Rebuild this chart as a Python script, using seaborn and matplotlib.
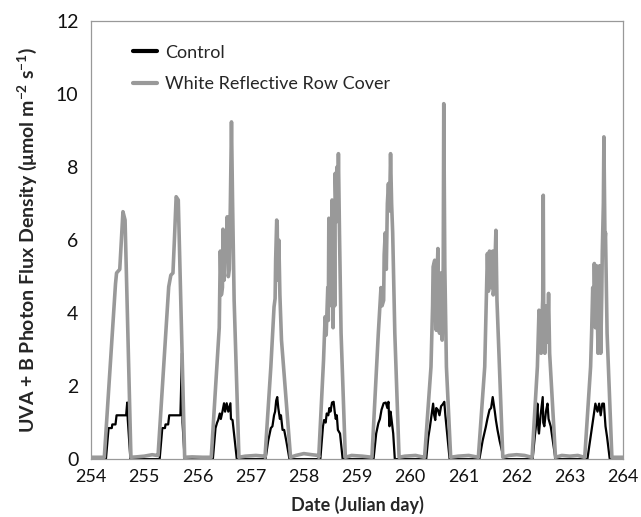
import matplotlib
matplotlib.use('Agg')
import matplotlib.pyplot as plt
import pandas as pd
import seaborn as sns

# White reflective row cover (grey)
cover_day = [
    254.00, 254.12,
    254.25, 254.46, 254.48, 254.54, 254.57, 254.60, 254.64, 254.75,
    254.85, 255.00, 255.15, 255.24,
    255.26, 255.46, 255.50, 255.54, 255.57, 255.60, 255.64, 255.76,
    255.90, 256.10, 256.25,
    256.26, 256.41, 256.43, 256.45, 256.47, 256.48, 256.50, 256.52, 256.54, 256.56,
    256.58, 256.60, 256.62, 256.64, 256.66, 256.69, 256.78,
    256.90, 257.10, 257.26,
    257.27, 257.38, 257.44, 257.46, 257.47, 257.49, 257.50, 257.51, 257.53, 257.55,
    257.58, 257.75,
    257.85, 258.00, 258.15, 258.27,
    258.28, 258.37, 258.40, 258.42, 258.45, 258.46, 258.47, 258.49, 258.51, 258.52,
    258.53, 258.55, 258.57, 258.58, 258.59, 258.61, 258.62, 258.64, 258.65, 258.67,
    258.70, 258.78,
    258.90, 259.10, 259.27,
    259.28, 259.40, 259.45, 259.47, 259.50, 259.51, 259.53, 259.55, 259.57, 259.59,
    259.61, 259.63, 259.65, 259.67, 259.71, 259.79,
    259.90, 260.10, 260.26,
    260.27, 260.39, 260.42, 260.43, 260.46, 260.47, 260.49, 260.50, 260.52, 260.53,
    260.55, 260.57, 260.58, 260.60, 260.62, 260.63, 260.65, 260.68, 260.76,
    260.90, 261.10, 261.27,
    261.28, 261.40, 261.44, 261.45, 261.47, 261.49, 261.51, 261.52, 261.55, 261.56,
    261.58, 261.61, 261.63, 261.74,
    261.85, 262.00, 262.15, 262.28,
    262.29, 262.39, 262.42, 262.44, 262.46, 262.48, 262.49, 262.50, 262.51, 262.53,
    262.55, 262.56, 262.58, 262.60, 262.62, 262.73,
    262.85, 263.00, 263.15, 263.27,
    263.28, 263.39, 263.41, 263.43, 263.45, 263.46, 263.48, 263.50, 263.53, 263.55,
    263.56, 263.58, 263.60, 263.61, 263.63, 263.64, 263.66, 263.67, 263.70, 263.79,
    263.90, 264.00,
]
cover_flux = [
    0.05, 0.05,
    0.05, 4.80, 5.10, 5.20, 6.00, 6.78, 6.55, 0.05,
    0.06, 0.08, 0.12, 0.10,
    0.10, 4.72, 5.04, 5.10, 6.10, 7.19, 7.10, 0.05,
    0.06, 0.05, 0.05,
    0.05, 3.60, 5.70, 4.50, 4.70, 6.30, 4.90, 6.20, 5.45, 6.64,
    5.00, 5.20, 7.10, 9.24, 7.10, 4.35, 0.05,
    0.08, 0.10, 0.08,
    0.05, 2.53, 4.17, 4.40, 5.45, 6.55, 6.40, 4.90, 6.00, 4.50,
    3.26, 0.05,
    0.10, 0.15, 0.12, 0.10,
    0.05, 2.70, 3.90, 3.40, 4.70, 3.80, 6.60, 4.60, 5.45, 4.20,
    7.10, 3.60, 7.00, 4.20, 7.83, 6.50, 8.00, 7.20, 8.37, 6.20,
    3.45, 0.05,
    0.10, 0.08, 0.05,
    0.05, 3.45, 4.70, 4.20, 4.35, 5.60, 6.20, 5.20, 7.00, 7.55,
    6.80, 8.37, 7.00, 6.20, 3.45, 0.05,
    0.08, 0.10, 0.05,
    0.05, 2.53, 4.20, 5.27, 5.45, 4.00, 3.53, 4.80, 5.77, 4.20,
    3.45, 5.10, 3.60, 3.26, 5.30, 9.74, 5.27, 2.53, 0.05,
    0.08, 0.10, 0.05,
    0.05, 2.53, 5.00, 5.63, 4.60, 5.70, 4.80, 4.70, 5.70, 4.50,
    4.70, 6.27, 4.35, 0.05,
    0.10, 0.12, 0.10, 0.05,
    0.05, 2.53, 4.08, 3.20, 2.90, 4.00, 4.35, 7.23, 3.50, 2.90,
    4.20, 3.90, 3.20, 4.54, 2.90, 0.05,
    0.10, 0.08, 0.10, 0.05,
    0.05, 2.53, 3.50, 4.70, 3.80, 5.36, 3.60, 5.30, 2.90, 4.20,
    5.30, 2.90, 4.50, 5.70, 7.00, 8.83, 6.00, 6.20, 3.45, 0.05,
    0.05, 0.05,
]

# Control (black)
control_day = [
    254.00,
    254.28, 254.33, 254.39, 254.40, 254.46, 254.48, 254.66, 254.68, 254.69, 254.74,
    255.29, 255.34, 255.39, 255.40, 255.45, 255.47, 255.68, 255.71, 255.72, 255.76,
    256.29, 256.34, 256.37, 256.39, 256.42, 256.44, 256.47, 256.50, 256.52, 256.55,
    256.58, 256.62, 256.63, 256.66, 256.74,
    257.28, 257.33, 257.38, 257.41, 257.44, 257.46, 257.48, 257.50, 257.52, 257.55,
    257.57, 257.60, 257.63, 257.67, 257.73,
    258.31, 258.36, 258.38, 258.41, 258.43, 258.46, 258.48, 258.50, 258.53, 258.56,
    258.58, 258.60, 258.62, 258.64, 258.68, 258.73,
    259.31, 259.36, 259.40, 259.43, 259.46, 259.50, 259.54, 259.57, 259.59, 259.61,
    259.63, 259.65, 259.68, 259.71,
    260.30, 260.34, 260.37, 260.40, 260.43, 260.45, 260.47, 260.49, 260.52, 260.55,
    260.58, 260.61, 260.64, 260.66, 260.68, 260.74,
    261.30, 261.36, 261.42, 261.45, 261.49, 261.52, 261.55, 261.57, 261.59, 261.61,
    261.64, 261.68, 261.76,
    262.30, 262.34, 262.37, 262.39, 262.41, 262.42, 262.45, 262.49, 262.50, 262.52,
    262.55, 262.58, 262.60, 262.64, 262.68, 262.73,
    263.33, 263.38, 263.42, 263.45, 263.48, 263.52, 263.55, 263.58, 263.61, 263.64,
    263.67, 263.70, 263.75,
    264.00,
]
control_flux = [
    0.0,
    0.0, 0.85, 0.85, 0.95, 0.95, 1.20, 1.20, 1.55, 1.10, 0.0,
    0.0, 0.85, 0.85, 0.95, 0.95, 1.20, 1.20, 2.90, 1.00, 0.0,
    0.0, 0.85, 1.00, 1.07, 1.25, 1.10, 1.30, 1.53, 1.30, 1.53,
    1.30, 1.53, 1.10, 1.07, 0.0,
    0.0, 0.50, 0.85, 0.90, 1.20, 1.30, 1.60, 1.70, 1.40, 1.10,
    1.20, 0.80, 0.80, 0.50, 0.0,
    0.0, 0.90, 1.07, 1.00, 1.25, 1.20, 1.40, 1.30, 1.55, 1.57,
    1.30, 1.10, 1.20, 0.80, 0.70, 0.0,
    0.0, 0.70, 0.98, 1.10, 1.35, 1.53, 1.55, 1.40, 1.57, 0.90,
    1.30, 1.07, 0.70, 0.0,
    0.0, 0.60, 0.88, 1.20, 1.52, 1.20, 1.07, 1.40, 1.35, 1.20,
    1.45, 1.50, 1.57, 1.20, 0.90, 0.0,
    0.0, 0.50, 0.88, 1.10, 1.35, 1.40, 1.70, 1.50, 1.30, 1.07,
    0.80, 0.50, 0.0,
    0.0, 0.60, 1.00, 1.52, 0.80, 0.70, 1.20, 1.70, 1.00, 0.90,
    1.30, 1.52, 1.10, 0.90, 0.50, 0.0,
    0.0, 0.50, 0.88, 1.20, 1.52, 1.30, 1.52, 1.20, 1.52, 1.52,
    0.90, 0.60, 0.0,
    0.0,
]

x_ticks = list(range(254, 265))
y_ticks = [0, 2, 4, 6, 8, 10, 12]

sns.set_style('white')
plt.rcParams['font.family'] = ['Lato', 'DejaVu Sans']
plt.rcParams['mathtext.fontset'] = 'custom'
plt.rcParams['mathtext.rm'] = 'Lato'
plt.rcParams['mathtext.bf'] = 'Lato:bold'

df_control = pd.DataFrame({'day': control_day, 'flux': control_flux})
df_cover = pd.DataFrame({'day': cover_day, 'flux': cover_flux})

fig = plt.figure(figsize=(6.41, 5.17), dpi=100)
ax = fig.add_axes([0.142, 0.112, 0.830, 0.847])

sns.lineplot(data=df_control, x='day', y='flux', ax=ax, color='black', linewidth=1.6,
             estimator=None, sort=False, label='Control')
sns.lineplot(data=df_cover, x='day', y='flux', ax=ax, color='#999999', linewidth=2.6,
             estimator=None, sort=False, label='White Reflective Row Cover')

ax.set_xlim(254, 264)
ax.set_ylim(0, 12)
ax.set_xticks(x_ticks)
ax.set_yticks(y_ticks)
ax.tick_params(axis='x', direction='in', length=3, width=0.8, color='#888888',
               labelsize=13, pad=7, labelcolor='#111111')
ax.tick_params(axis='y', direction='out', length=4, width=0.8, color='#888888',
               labelsize=14, pad=5, labelcolor='#111111')
for sp in ax.spines.values():
    sp.set_color('#999999')
    sp.set_linewidth(0.9)

ax.set_xlabel('Date (Julian day)', fontsize=13, fontweight='bold', labelpad=8)
ax.set_ylabel(r'UVA + B Photon Flux Density (μmol m$\mathbf{^{-2}}$ s$\mathbf{^{-1}}$)',
              fontsize=14, fontweight='bold', labelpad=12)

leg = ax.legend(loc='upper left', frameon=False, fontsize=13, handlelength=1.3,
                handletextpad=0.45, labelspacing=0.85, borderaxespad=0.9,
                bbox_to_anchor=(0.035, 1.0))
for h in leg.get_lines():
    h.set_linewidth(3)

fig.savefig('out.png', dpi=100)
